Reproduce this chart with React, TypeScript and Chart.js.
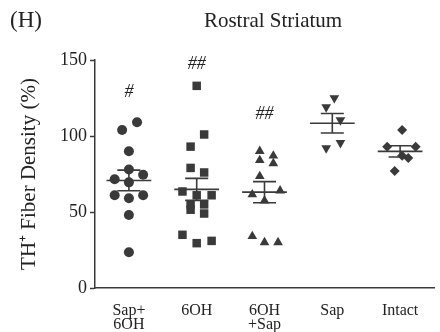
import React, { useEffect, useRef } from "react";
import { Chart, registerables } from "chart.js";

Chart.register(...registerables);

// ---- data ----
const categories: string[][] = [["Sap+", "6OH"], ["6OH"], ["6OH", "+Sap"], ["Sap"], ["Intact"]];

const sapPlus6OH = [109, 104, 90, 78, 74.5, 71.5, 69.5, 61, 59, 61, 48, 23.5];
const sapPlus6OHJitter = [0.12, -0.1, 0, 0, 0.21, -0.21, 0, -0.21, 0, 0.21, 0, 0];

const ohda = [133, 101, 93, 79, 76, 63.5, 61, 61, 55, 51.5, 55, 49, 35, 29.5, 31];
const ohdaJitter = [0, 0.11, -0.09, -0.09, 0.11, -0.21, 0, 0.22, -0.09, -0.09, 0.11, 0.11, -0.21, 0, 0.22];

const ohdaPlusSap = [90, 87, 84, 82, 73.5, 61.5, 64, 57.5, 34, 30, 30];
const ohdaPlusSapJitter = [-0.07, 0.13, -0.07, 0.13, -0.07, -0.18, 0.23, 0, -0.18, 0, 0.2];

const sap = [125, 119, 110.5, 92, 95.5];
const sapJitter = [0.03, -0.09, 0.12, -0.09, 0.12];

const intact = [104, 93, 93, 87, 85.5, 77];
const intactJitter = [0.03, -0.19, 0.23, 0.03, 0.12, -0.08];

const yTicks = [0, 50, 100, 150];
const significance = ["#", "##", "##", "", ""];
const significanceY = [129, 147, 114, 0, 0];

const groups = [sapPlus6OH, ohda, ohdaPlusSap, sap, intact];
const jitters = [sapPlus6OHJitter, ohdaJitter, ohdaPlusSapJitter, sapJitter, intactJitter];
const pointStyles = ["circle", "rect", "triangle", "triangle", "rectRot"];
const pointRotations = [0, 0, 0, 180, 0];
const pointRadii = [5, 6, 5.6, 5.6, 5];

const MARK = "#3a3a3a";
const TEXT = "#222222";
const FONT = "'Liberation Serif', 'Times New Roman', serif";

function meanSem(v: number[]) {
  const n = v.length;
  const m = v.reduce((a, b) => a + b, 0) / n;
  const sd = Math.sqrt(v.reduce((a, b) => a + (b - m) * (b - m), 0) / (n - 1));
  return { m, sem: sd / Math.sqrt(n) };
}

export default function App() {
  const ref = useRef<HTMLCanvasElement | null>(null);

  useEffect(() => {
    if (!ref.current) return;

    const pointSets = groups.map((vals, gi) => ({
      type: "scatter" as const,
      label: categories[gi].join(" "),
      data: vals.map((y, i) => ({ x: gi + 1 + jitters[gi][i], y })),
      pointStyle: pointStyles[gi],
      rotation: pointRotations[gi],
      pointRadius: pointRadii[gi],
      pointHoverRadius: pointRadii[gi],
      backgroundColor: MARK,
      borderColor: MARK,
      borderWidth: 0,
      showLine: false,
      order: 2,
    }));

    const bars: any[] = [];
    groups.forEach((vals, gi) => {
      const { m, sem } = meanSem(vals);
      const c = gi + 1;
      const segs = [
        [c - 0.33, m, c + 0.33, m],
        [c - 0.17, m + sem, c + 0.17, m + sem],
        [c - 0.17, m - sem, c + 0.17, m - sem],
        [c, m - sem, c, m + sem],
      ];
      segs.forEach(([x1, y1, x2, y2]) => {
        bars.push({ x: x1, y: y1 }, { x: x2, y: y2 }, { x: x2, y: null });
      });
    });

    const textPlugin = {
      id: "texts",
      afterDraw(chart: any) {
        const ctx = chart.ctx;
        const xs = chart.scales.x;
        const ys = chart.scales.y;
        ctx.save();
        ctx.fillStyle = TEXT;
        ctx.textBaseline = "middle";
        ctx.font = `23px ${FONT}`;
        ctx.textAlign = "left";
        ctx.fillText("(H)", 10, 21);
        ctx.textAlign = "center";
        ctx.font = `21px ${FONT}`;
        ctx.fillText("Rostral Striatum", 273, 21);
        ctx.font = `italic 18px ${FONT}`;
        significance.forEach((s, i) => {
          if (!s) return;
          ctx.fillText(s, xs.getPixelForValue(i + 1), ys.getPixelForValue(significanceY[i]));
        });
        ctx.restore();
      },
    };

    const chart = new Chart(ref.current, {
      type: "scatter",
      data: {
        datasets: [
          ...pointSets,
          {
            type: "scatter" as const,
            label: "mean ± SEM",
            data: bars,
            showLine: true,
            spanGaps: false,
            pointRadius: 0,
            pointHoverRadius: 0,
            borderColor: MARK,
            borderWidth: 1.6,
            order: 1,
          } as any,
        ],
      },
      options: {
        animation: false,
        responsive: false,
        maintainAspectRatio: false,
        layout: { padding: { top: 60, right: 0, left: 0, bottom: 0 } },
        plugins: {
          legend: { display: false },
          tooltip: { enabled: false },
          title: { display: false },
        },
        scales: {
          x: {
            type: "linear",
            min: 0.5,
            max: 5.5,
            afterBuildTicks: (scale: any) => {
              scale.ticks = categories.map((_, i) => ({ value: i + 1 }));
            },
            afterFit: (scale: any) => {
              scale.height = 44;
            },
            grid: { display: false },
            border: { display: true, color: MARK, width: 1.5 },
            ticks: {
              autoSkip: false,
              maxRotation: 0,
              padding: 7,
              color: TEXT,
              font: { family: FONT, size: 16, lineHeight: 0.92 },
              callback: (v: any) => categories[Math.round(Number(v)) - 1] ?? "",
            },
          },
          y: {
            type: "linear",
            min: 0,
            max: 150,
            afterBuildTicks: (scale: any) => {
              scale.ticks = yTicks.map((v) => ({ value: v }));
            },
            afterFit: (scale: any) => {
              scale.width = 95;
            },
            grid: {
              display: true,
              drawOnChartArea: false,
              drawTicks: true,
              tickLength: 5,
              tickColor: MARK,
              tickWidth: 1.5,
            },
            border: { display: true, color: MARK, width: 1.5 },
            ticks: {
              padding: 3,
              color: TEXT,
              font: { family: FONT, size: 18 },
            },
            title: {
              display: true,
              text: "TH⁺ Fiber Density (%)",
              color: TEXT,
              font: { family: FONT, size: 21 },
              padding: { top: 17, bottom: 0 },
            },
          },
        },
      },
      plugins: [textPlugin],
    });

    return () => chart.destroy();
  }, []);

  return (
    <div style={{ position: "fixed", left: 0, top: 0, width: 440, height: 332, background: "#fff" }}>
      <canvas ref={ref} width={440} height={332} style={{ width: 440, height: 332, display: "block" }} />
    </div>
  );
}
